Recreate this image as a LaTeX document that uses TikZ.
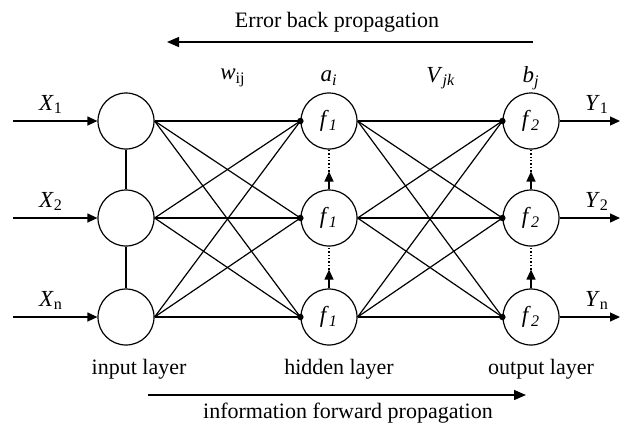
\documentclass[tikz,border=0pt]{standalone}
\usepackage{fontspec}
\setmainfont{Liberation Serif}
\usetikzlibrary{arrows.meta}
\newcommand{\lbl}[2]{\textit{#1}\textsubscript{#2}}

\begin{document}
\begin{tikzpicture}[x=0.5pt,y=-0.5pt]
                \tikzset{neuron/.style={draw, shape=circle, minimum size=28pt, inner sep=0pt, line width=0.6pt, font=\fontsize{11.5}{13}\selectfont},
                         link/.style={line width=0.6pt},
                         tip/.style={-{Triangle[length=5pt,width=4.5pt]}, line width=0.6pt},
                         bigtip/.style={-{Triangle[length=6pt,width=5pt]}, line width=0.7pt},
                         sym/.style={font=\fontsize{11.5}{13}\selectfont},
                         caption/.style={font=\fontsize{11}{13}\selectfont}}
                \useasboundingbox (0,0) rectangle (621,425);
                % neurons
                \node[neuron] (i1) at (126,121) {};
                \node[neuron] (i2) at (126,218) {};
                \node[neuron] (i3) at (126,317) {};
                \node[neuron] (h1) at (329,121) {\lbl{f}{\textit{1}}};
                \node[neuron] (h2) at (329,218) {\lbl{f}{\textit{1}}};
                \node[neuron] (h3) at (329,317) {\lbl{f}{\textit{1}}};
                \node[neuron] (o1) at (531,121) {\lbl{f}{\textit{2}}};
                \node[neuron] (o2) at (531,218) {\lbl{f}{\textit{2}}};
                \node[neuron] (o3) at (531,317) {\lbl{f}{\textit{2}}};
                % inputs and outputs
                \coordinate (x1) at (13,121);
                \coordinate (x2) at (13,218);
                \coordinate (x3) at (13,317);
                \coordinate (y1) at (620,121);
                \coordinate (y2) at (620,218);
                \coordinate (y3) at (620,317);
                \draw[tip] (x1) -- node[above, sym, pos=0.45] {\lbl{X}{1}} (i1);
                \draw[tip] (x2) -- node[above, sym, pos=0.45] {\lbl{X}{2}} (i2);
                \draw[tip] (x3) -- node[above, sym, pos=0.45] {\lbl{X}{n}} (i3);
                \draw[tip] (o1) -- node[above, sym, pos=0.62] {\lbl{Y}{1}} (y1);
                \draw[tip] (o2) -- node[above, sym, pos=0.62] {\lbl{Y}{2}} (y2);
                \draw[tip] (o3) -- node[above, sym, pos=0.62] {\lbl{Y}{n}} (y3);
                % weights
                \path[link]
                    (i1.east) edge (h1.west) edge (h2.west) edge (h3.west)
                    (i2.east) edge (h1.west) edge (h2.west) edge (h3.west)
                    (i3.east) edge (h1.west) edge (h2.west) edge (h3.west)
                    (h1.east) edge (o1.west) edge (o2.west) edge (o3.west)
                    (h2.east) edge (o1.west) edge (o2.west) edge (o3.west)
                    (h3.east) edge (o1.west) edge (o2.west) edge (o3.west);
                \fill (h1.west) circle (1.6pt);
                \fill (h2.west) circle (1.6pt);
                \fill (h3.west) circle (1.6pt);
                \fill (o1.west) circle (1.6pt);
                \fill (o2.west) circle (1.6pt);
                \fill (o3.west) circle (1.6pt);
                % vertical links
                \draw[line width=1.1pt] (i1.south) -- (i2.north);
                \draw[line width=1.1pt] (i2.south) -- (i3.north);
                \path (h2.north) -- (h1.south) coordinate[pos=0.45] (h21);
                \path (h3.north) -- (h2.south) coordinate[pos=0.45] (h32);
                \path (o2.north) -- (o1.south) coordinate[pos=0.45] (o21);
                \path (o3.north) -- (o2.south) coordinate[pos=0.45] (o32);
                \draw[tip] (h2.north) -- (h21);
                \draw[tip] (h3.north) -- (h32);
                \draw[tip] (o2.north) -- (o21);
                \draw[tip] (o3.north) -- (o32);
                \draw[densely dotted, line width=0.7pt] (h21) -- (h1.south);
                \draw[densely dotted, line width=0.7pt] (h32) -- (h2.south);
                \draw[densely dotted, line width=0.7pt] (o21) -- (o1.south);
                \draw[densely dotted, line width=0.7pt] (o32) -- (o2.south);
                % layer symbols
                \node[sym] (w) at (233,78) {\lbl{w}{ij}};
                \node[sym] (a) at (329,78) {\lbl{a}{\textit{i}}};
                \node[sym] (V) at (441,78) {\lbl{V}{\textit{jk}}};
                \node[sym] (b) at (531,78) {\lbl{b}{\textit{j}}};
                % layer names
                \node[caption] (inname) at (139,369) {input layer};
                \node[caption] (hidname) at (339,369) {hidden layer};
                \node[caption] (outname) at (541,369) {output layer};
                % propagation arrows
                \node[caption] (err) at (337,22) {Error back propagation};
                \coordinate (errR) at (533,42);
                \coordinate (errL) at (167,42);
                \draw[bigtip] (errR) -- (errL);
                \coordinate (fwdL) at (148,395);
                \coordinate (fwdR) at (526,395);
                \draw[bigtip] (fwdL) -- (fwdR);
                \node[caption] (fwd) at (348,413) {information forward propagation};
            \end{tikzpicture}
\end{document}
